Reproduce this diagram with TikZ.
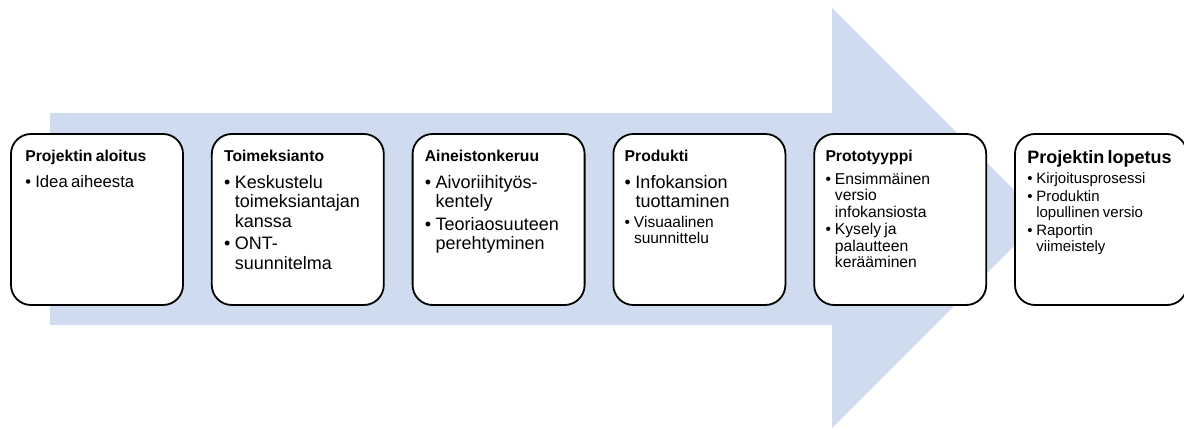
\documentclass[tikz,border=0pt]{standalone}
\usepackage{fontspec}
\setmainfont{Liberation Sans}
\usetikzlibrary{positioning}
\definecolor{flow}{HTML}{CFDBEE}
% bullet line with hanging indent
\newcommand{\bitem}[2][3pt]{\par\vspace{#1}\hangindent=0.6em\hangafter=1\noindent\makebox[0.6em][l]{\textbullet}#2\par}
\newcommand{\fsz}[2]{\fontsize{#1}{#2}\selectfont}

\begin{document}
\begin{tikzpicture}[
    x=1pt, y=-1pt,
    node distance=27pt,
    stage/.style={draw, line width=1.8pt, fill=white, rounded corners=20pt, minimum width=172pt, minimum height=171pt, inner sep=0pt},
    stagetext/.style={inner sep=0pt, text width=160pt, align=left},
  ]
  \useasboundingbox (0,0) rectangle (1184,430);

  % Big arrow
  \fill[flow] (50,113) -- (832,113) -- (832,8) -- (1042,218) -- (832,428) -- (832,325) -- (50,325) -- cycle;

  % Stages
  \node[stage] (s1) at (97,219.5) {};
  \node[stage, right=of s1] (s2) {};
  \node[stage, right=of s2] (s3) {};
  \node[stage, right=of s3] (s4) {};
  \node[stage, right=of s4] (s5) {};
  \node[stage, right=of s5] (s6) {};

  % Texts
  \node[stagetext, below right=17pt and 15pt of s1.north west] (t1) {%
    {\bfseries\fsz{15.7}{17}Projektin aloitus\par}\vspace{8pt}
    \fsz{16.7}{18}\bitem[0pt]{Idea aiheesta}};
  \node[stagetext, below right=17pt and 13pt of s2.north west] (t2) {%
    {\bfseries\fsz{15.7}{17}Toimeksianto\par}\vspace{7pt}
    \fsz{18}{19.5}\bitem[0pt]{Keskustelu\newline toimeksiantajan\newline kanssa}
    \bitem{ONT-\newline suunnitelma}};
  \node[stagetext, below right=17pt and 13pt of s3.north west] (t3) {%
    {\bfseries\fsz{15.7}{17}Aineistonkeruu\par}\vspace{7pt}
    \fsz{18}{19.5}\bitem[0pt]{Aivoriihityös-\newline kentely}
    \bitem{Teoriaosuuteen\newline perehtyminen}};
  \node[stagetext, below right=17pt and 12pt of s4.north west] (t4) {%
    {\bfseries\fsz{15.7}{17}Produkti\par}\vspace{7pt}
    \fsz{18}{19.5}\bitem[0pt]{Infokansion\newline tuottaminen}
    \fsz{15.5}{16.5}\bitem{Visuaalinen\newline suunnittelu}};
  \node[stagetext, below right=17pt and 12pt of s5.north west] (t5) {%
    {\bfseries\fsz{15.7}{17}Prototyyppi\par}\vspace{6pt}
    \fsz{15.7}{16.5}\bitem[0pt]{Ensimmäinen\newline versio\newline infokansiosta}
    \bitem[1pt]{Kysely ja\newline palautteen\newline kerääminen}};
  \node[stagetext, below right=17pt and 13pt of s6.north west] (t6) {%
    {\bfseries\fsz{18}{19}Projektin lopetus\par}\vspace{4pt}
    \fsz{15}{16.5}\bitem[0pt]{Kirjoitusprosessi}
    \bitem[1pt]{Produktin\newline lopullinen versio}
    \bitem[1pt]{Raportin\newline viimeistely}};
\end{tikzpicture}
\end{document}
